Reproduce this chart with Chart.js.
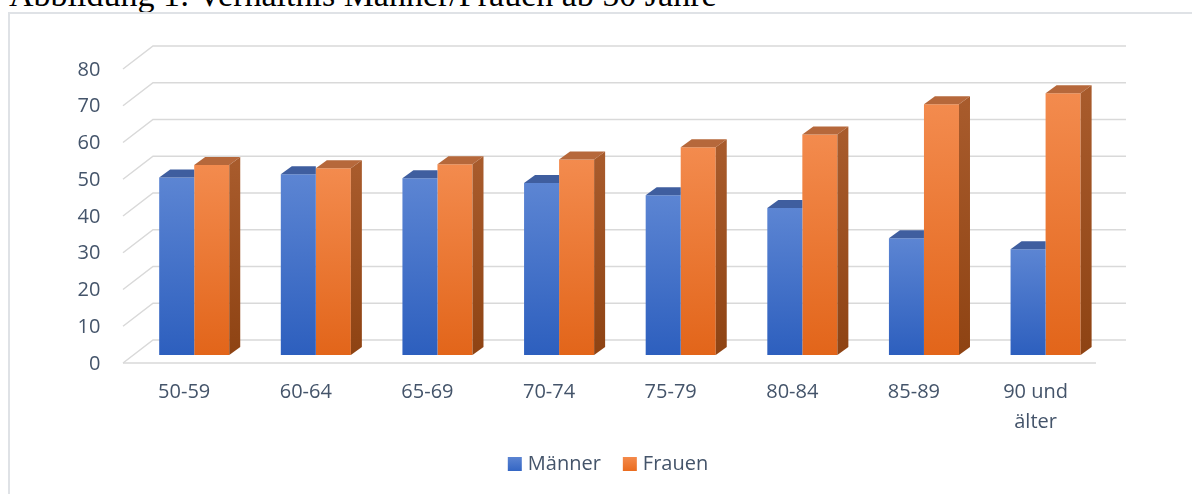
<!DOCTYPE html>
<html>
<head>
<meta charset="utf-8">
<script src="https://cdn.jsdelivr.net/npm/chart.js@4.4.1/dist/chart.umd.min.js"></script>
<style>
  html, body { margin: 0; padding: 0; background: #fff; overflow: hidden; }
  body { width: 1192px; height: 494px; position: relative; }
  #frame { position: absolute; left: 8px; top: 12px; width: 1300px; height: 600px; border: 2px solid #dfe2e6; }
  #title { position: absolute; left: 9px; top: -22px; font: 34px/34px "Liberation Serif", "Times New Roman", serif; color: #000; white-space: nowrap; }
  #barCanvas { position: absolute; left: 0; top: 0; }
</style>
</head>
<body>
<div id="title">Abbildung 1: Verhältnis Männer/Frauen ab 50 Jahre</div>
<div id="frame"></div>
<canvas id="barCanvas" width="1192" height="494"></canvas>
<script>
// daten
const categories = ["50-59", "60-64", "65-69", "70-74", "75-79", "80-84", "85-89", ["90 und", "älter"]];
const maenner = [48.3, 49.2, 48.1, 46.8, 43.5, 40.0, 31.8, 28.8];
const frauen = [51.7, 50.8, 51.9, 53.2, 56.5, 60.0, 68.2, 71.2];
const yTicks = [0, 10, 20, 30, 40, 50, 60, 70, 80];
const seriesNames = ["Männer", "Frauen"];

const textColor = "#44546a";
const tickFont = { family: "Open Sans", size: 20, lineHeight: 1.5 };

// perspective offsets (bar plane -> front / back wall, bar depth)
const FRONT = { dx: -10.4, dy: 8 };
const BACK = { dx: 19.6, dy: -15 };
const BAR = { dx: 11, dy: -8 };

function barFill(top, bottom) {
  return function (c) {
    const chart = c.chart;
    if (!chart.chartArea || c.type !== "data") return bottom;
    const y = chart.scales.y;
    const g = chart.ctx.createLinearGradient(0, y.getPixelForValue(c.raw), 0, y.getPixelForValue(0));
    g.addColorStop(0, top);
    g.addColorStop(1, bottom);
    return g;
  };
}

function poly(ctx, pts, fill) {
  ctx.beginPath();
  ctx.moveTo(pts[0][0], pts[0][1]);
  for (let i = 1; i < pts.length; i++) ctx.lineTo(pts[i][0], pts[i][1]);
  ctx.closePath();
  ctx.fillStyle = fill;
  ctx.fill();
}

const depth3d = {
  id: "depth3d",
  beforeDatasetsDraw(chart) {
    const { ctx, chartArea: a, scales: { y } } = chart;
    ctx.save();
    ctx.strokeStyle = "#d9d9d9";
    ctx.lineWidth = 1.5;
    y.ticks.forEach(t => {
      const py = y.getPixelForValue(t.value);
      ctx.beginPath();
      ctx.moveTo(a.left + FRONT.dx, py + FRONT.dy);
      ctx.lineTo(a.left + BACK.dx, py + BACK.dy);
      ctx.lineTo(a.right + BACK.dx, py + BACK.dy);
      ctx.stroke();
    });
    const p0 = y.getPixelForValue(0);
    ctx.beginPath();
    ctx.moveTo(a.left + FRONT.dx, p0 + FRONT.dy);
    ctx.lineTo(a.right + FRONT.dx, p0 + FRONT.dy);
    ctx.stroke();
    ctx.restore();
  },
  afterDatasetsDraw(chart) {
    const ctx = chart.ctx;
    const m = chart.getDatasetMeta(0).data;
    const f = chart.getDatasetMeta(1).data;
    ctx.save();
    for (let i = 0; i < m.length; i++) {
      const b = m[i], o = f[i];
      const bl = b.x - b.width / 2, br = b.x + b.width / 2;
      const ol = o.x - o.width / 2, or = o.x + o.width / 2;
      // blue top (partly hidden behind orange)
      poly(ctx, [[bl, b.y], [br, b.y], [br, b.y + BAR.dy], [bl + BAR.dx, b.y + BAR.dy]], "#3f5e9f");
      // orange top
      poly(ctx, [[ol, o.y], [or, o.y], [or + BAR.dx, o.y + BAR.dy], [ol + BAR.dx, o.y + BAR.dy]], "#b6683b");
      // orange side
      const g = ctx.createLinearGradient(0, o.y, 0, o.base);
      g.addColorStop(0, "#a85b2c");
      g.addColorStop(1, "#8e4313");
      poly(ctx, [[or, o.y], [or + BAR.dx, o.y + BAR.dy], [or + BAR.dx, o.base + BAR.dy], [or, o.base]], g);
    }
    ctx.restore();
  },
  afterDraw(chart) {
    // legende
    const ctx = chart.ctx;
    const box = 14, gap = 6, itemGap = 22, cy = 464, cx = 608;
    const fills = [["#5b84d2", "#3466c4"], ["#f48a4b", "#ea6c1f"]];
    ctx.save();
    ctx.font = '20px "Open Sans"';
    ctx.textBaseline = "middle";
    const widths = seriesNames.map(n => box + gap + ctx.measureText(n).width);
    let x = cx - (widths[0] + widths[1] + itemGap) / 2;
    seriesNames.forEach((n, i) => {
      const g = ctx.createLinearGradient(0, cy - box / 2, 0, cy + box / 2);
      g.addColorStop(0, fills[i][0]);
      g.addColorStop(1, fills[i][1]);
      ctx.fillStyle = g;
      ctx.fillRect(x, cy - box / 2, box, box);
      ctx.fillStyle = textColor;
      ctx.fillText(n, x + box + gap, cy);
      x += widths[i] + itemGap;
    });
    ctx.restore();
  }
};

const barCanvas = document.getElementById("barCanvas");

const barChart = new Chart(barCanvas, {
  type: "bar",
  data: {
    labels: categories,
    datasets: [
      { label: seriesNames[0], data: maenner, backgroundColor: barFill("#5c85d3", "#2d5fbe") },
      { label: seriesNames[1], data: frauen, backgroundColor: barFill("#f38b4e", "#e2651a") }
    ]
  },
  options: {
    responsive: false,
    animation: false,
    events: [],
    devicePixelRatio: 1,
    datasets: { bar: { barPercentage: 1, categoryPercentage: 0.576, borderWidth: 0 } },
    layout: { padding: { top: 61, right: 85.6, left: 0, bottom: 0 } },
    plugins: { legend: { display: false }, tooltip: { enabled: false } },
    scales: {
      x: {
        grid: { display: false, drawTicks: false },
        border: { display: false },
        ticks: { color: textColor, font: tickFont, padding: 22, labelOffset: -10, maxRotation: 0, autoSkip: false },
        afterFit: s => { s.height = 139; }
      },
      y: {
        min: 0,
        max: 80,
        grid: { display: false, drawTicks: false },
        border: { display: false },
        ticks: { color: textColor, font: { family: "Open Sans", size: 20 }, padding: 33, labelOffset: 9 },
        afterBuildTicks: s => { s.ticks = yTicks.map(v => ({ value: v })); },
        afterFit: s => { s.width = 133.4; }
      }
    }
  },
  plugins: [depth3d]
});
</script>
</body>
</html>
